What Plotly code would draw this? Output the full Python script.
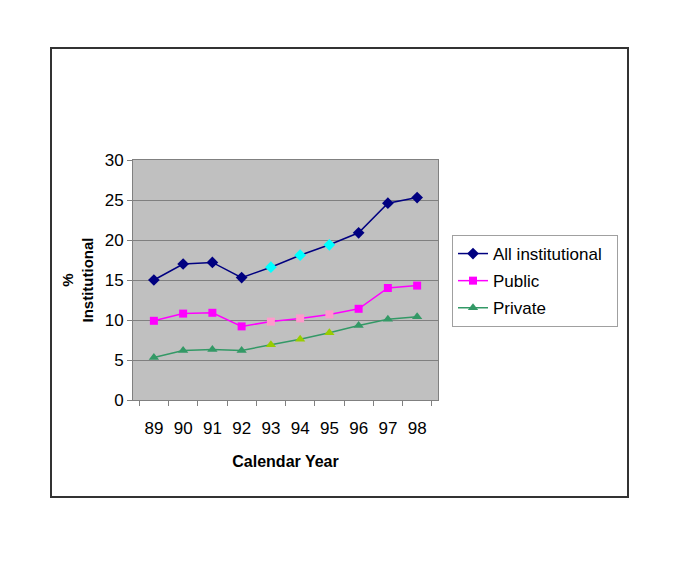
import plotly.graph_objects as go

years = ["89", "90", "91", "92", "93", "94", "95", "96", "97", "98"]
all_inst = [15.0, 17.0, 17.2, 15.3, 16.6, 18.1, 19.4, 20.9, 24.6, 25.3]
public = [9.9, 10.8, 10.9, 9.2, 9.8, 10.2, 10.7, 11.4, 14.0, 14.3]
private = [5.3, 6.2, 6.3, 6.2, 6.9, 7.6, 8.4, 9.3, 10.1, 10.4]

highlight = {"93", "94", "95"}

def colors(base, hi):
    return [hi if y in highlight else base for y in years]

FONT = "Liberation Sans, Arial, sans-serif"

fig = go.Figure()
fig.add_trace(go.Scatter(
    x=years, y=all_inst, name="All institutional\u00a0\u00a0", mode="lines+markers",
    legendgroup="a",
    line=dict(color="#000080", width=1.5),
    marker=dict(symbol="diamond", size=9, color=colors("#000080", "#00FFFF")),
))
fig.add_trace(go.Scatter(
    x=years, y=public, name="Public", mode="lines+markers",
    legendgroup="b",
    line=dict(color="#FF00FF", width=1.5),
    marker=dict(symbol="square", size=8, color=colors("#FF00FF", "#FF99CC")),
))
fig.add_trace(go.Scatter(
    x=years, y=private, name="Private", mode="lines+markers",
    legendgroup="c",
    line=dict(color="#339966", width=1.5),
    marker=dict(symbol="triangle-up", size=9, color=colors("#339966", "#99CC00")),
))

OFF = 8  # page body margin
W, H = 685 - 2 * OFF, 563 - 2 * OFF
L, R, T, B = 133 - OFF, 438 - OFF, 160 - OFF, 400 - OFF
pw, ph = R - L, B - T

def px(x):
    return (x - OFF - L) / pw

def py(y):
    return (B - (y - OFF)) / ph

fig.update_layout(
    width=W, height=H,
    margin=dict(l=L, r=W - R, t=T, b=H - B, pad=0),
    paper_bgcolor="white",
    plot_bgcolor="#C0C0C0",
    font=dict(family=FONT, color="black", size=17),
    showlegend=True,
    legend=dict(
        x=px(452), y=py(235), xanchor="left", yanchor="top",
        bordercolor="#A0A0A0", borderwidth=1, bgcolor="white",
        font=dict(size=17, family=FONT), tracegroupgap=2,
    ),
    xaxis=dict(
        type="category", tickson="boundaries", ticks="outside", ticklen=5,
        tickcolor="#808080", showgrid=False, showline=True, linecolor="#808080",
        linewidth=1, mirror=True, ticklabelstandoff=13,
        tickfont=dict(size=17),
        title=dict(text="<b>Calendar Year</b>", font=dict(size=16), standoff=18),
    ),
    yaxis=dict(
        range=[0, 30], tickvals=[0, 5, 10, 15, 20, 25, 30], ticks="outside",
        ticklen=5, tickcolor="#808080", showgrid=True, gridcolor="#808080",
        gridwidth=1, showline=True, linecolor="#808080", linewidth=1,
        mirror=True, zeroline=False, tickfont=dict(size=17),
        title=dict(text="<b>%<br>Institutional</b>", font=dict(size=15), standoff=7),
    ),
    shapes=[dict(
        type="rect", xref="paper", yref="paper",
        x0=px(51), x1=px(628), y0=py(48), y1=py(497),
        line=dict(color="#333333", width=2), fillcolor="rgba(0,0,0,0)",
        layer="below",
    )],
)

fig.write_html("out.html")
